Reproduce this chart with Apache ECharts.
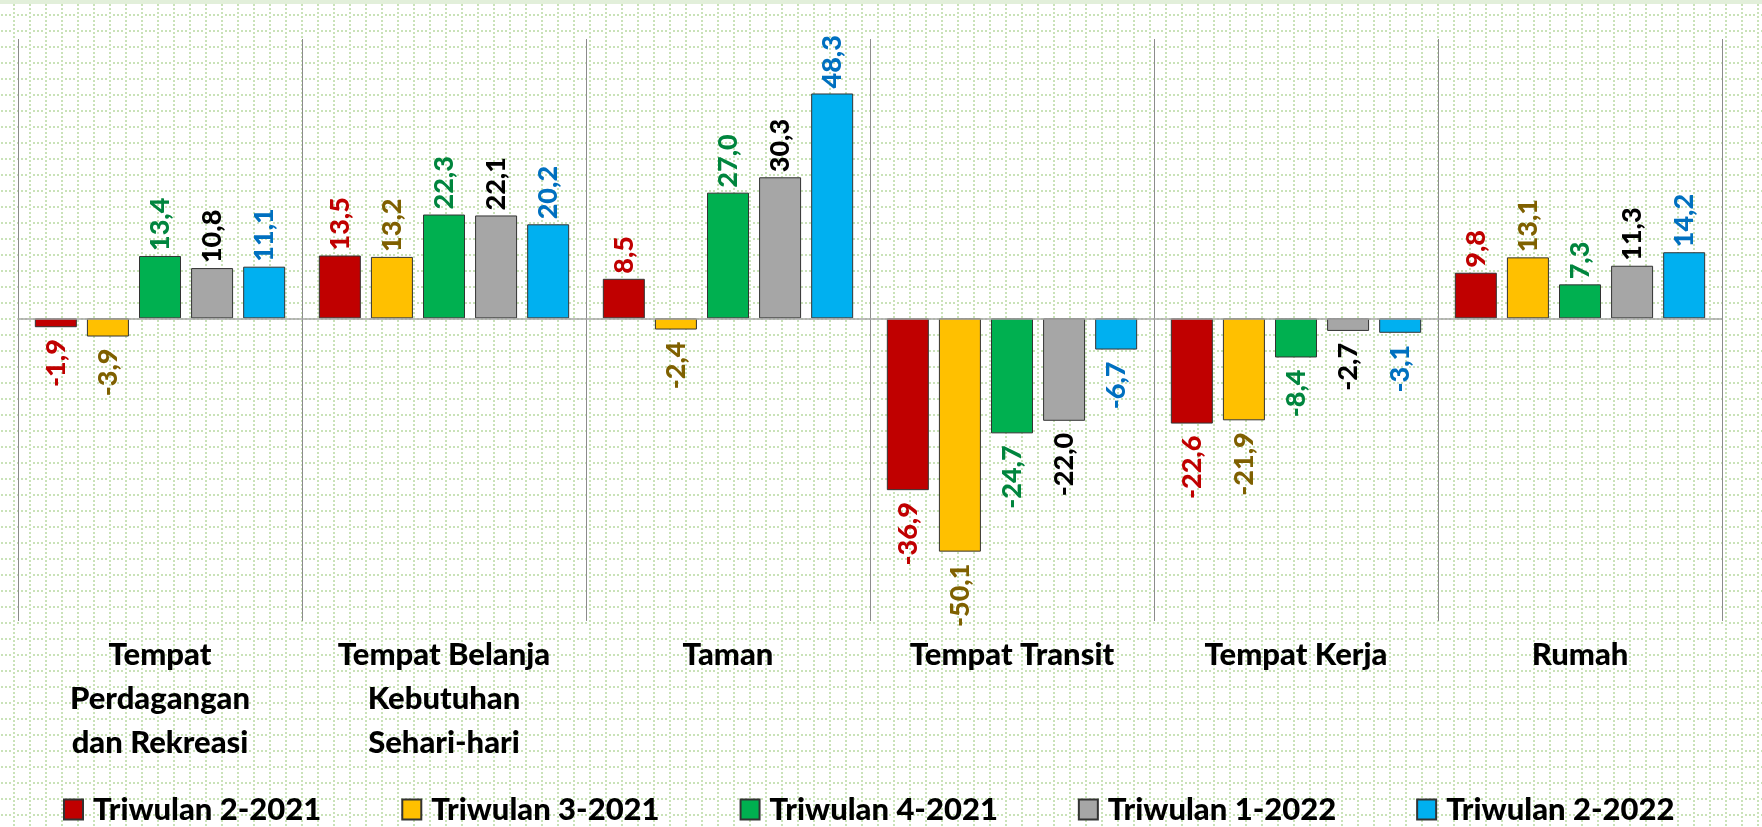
<!DOCTYPE html>
<html>
<head>
<meta charset="utf-8">
<script src="https://cdn.jsdelivr.net/npm/echarts@6/dist/echarts.min.js"></script>
<style>
  html, body { margin: 0; padding: 0; }
  body {
    width: 1762px; height: 827px; overflow: hidden; position: relative;
    background-color: #fff;
    background-image: url("data:image/svg+xml,%3Csvg xmlns='http://www.w3.org/2000/svg' width='16' height='16'%3E%3Cg fill='%23c9e2b8'%3E%3Crect x='13' y='0' width='2' height='2'/%3E%3Crect x='13' y='4' width='2' height='2'/%3E%3Crect x='13' y='8' width='2' height='2'/%3E%3Crect x='13' y='12' width='2' height='2'/%3E%3Crect x='1' y='14' width='2' height='2'/%3E%3Crect x='5' y='14' width='2' height='2'/%3E%3Crect x='9' y='14' width='2' height='2'/%3E%3C/g%3E%3C/svg%3E");
  }
  #topband { position: absolute; left: 0; top: 0; width: 1762px; height: 4px; background: #e2efda; }
  #echartsView { position: absolute; left: 0; top: 0; width: 1762px; height: 827px; }
</style>
</head>
<body>
<div id="topband"></div>
<div id="echartsView"></div>
<script>
var categories = [
  'Tempat\nPerdagangan\ndan Rekreasi',
  'Tempat Belanja\nKebutuhan\nSehari-hari',
  'Taman',
  'Tempat Transit',
  'Tempat Kerja',
  'Rumah'
];
var seriesNames = ['Triwulan 2-2021', 'Triwulan 3-2021', 'Triwulan 4-2021', 'Triwulan 1-2022', 'Triwulan 2-2022'];
var tw2_2021 = [-1.9, 13.5, 8.5, -36.9, -22.6, 9.8];
var tw3_2021 = [-3.9, 13.2, -2.4, -50.1, -21.9, 13.1];
var tw4_2021 = [13.4, 22.3, 27.0, -24.7, -8.4, 7.3];
var tw1_2022 = [10.8, 22.1, 30.3, -22.0, -2.7, 11.3];
var tw2_2022 = [11.1, 20.2, 48.3, -6.7, -3.1, 14.2];

var barColors = ['#C00000', '#FFC000', '#00B050', '#A6A6A6', '#00B0F0'];
var labelColors = ['#C00000', '#7F6000', '#00853E', '#000000', '#0070C0'];
var allValues = [tw2_2021, tw3_2021, tw4_2021, tw1_2022, tw2_2022];

var myChart = echarts.init(document.getElementById('echartsView'));

function fmt(p) {
  return p.value.toFixed(1).replace('.', ',');
}

var series = allValues.map(function (vals, i) {
  var s = {
    name: seriesNames[i],
    type: 'bar',
    barWidth: 42,
    barGap: '24%',
    itemStyle: { color: barColors[i], borderColor: '#333', borderWidth: 1 },
    data: vals.map(function (v) {
      var neg = v < 0;
      return {
        value: v,
        label: {
          show: true,
          position: neg ? 'bottom' : 'top',
          distance: neg ? 12 : 5,
          rotate: 90,
          align: neg ? 'right' : 'left',
          verticalAlign: 'middle',
          formatter: fmt,
          color: labelColors[i],
          fontFamily: 'Lato',
          fontWeight: 900,
          fontSize: 27
        }
      };
    })
  };
  if (i === 0) {
    s.markLine = {
      silent: true,
      symbol: 'none',
      label: { show: false },
      lineStyle: { color: '#a6a6a6', width: 1.5, type: 'solid' },
      data: [{ yAxis: 0 }]
    };
  }
  return s;
});

var option = {
  animation: false,
  textStyle: { fontFamily: 'Lato' },
  grid: { left: 18, right: 40, top: 39, bottom: 206 },
  legend: {
    left: 63,
    top: 794,
    padding: 0,
    icon: 'rect',
    itemWidth: 19,
    itemHeight: 20,
    itemGap: 80,
    textStyle: {
      fontFamily: 'Lato',
      fontWeight: 900,
      fontSize: 31,
      color: '#000',
      width: 232,
      padding: [0, 0, 0, 5]
    },
    data: seriesNames
  },
  xAxis: {
    type: 'category',
    data: categories,
    axisLine: { show: false },
    axisTick: { show: false },
    splitLine: { show: true, lineStyle: { color: '#8c8c8c', width: 1 } },
    axisLabel: {
      margin: 12,
      fontFamily: 'Lato',
      fontWeight: 900,
      fontSize: 31,
      lineHeight: 44,
      color: '#000',
      interval: 0
    }
  },
  yAxis: {
    type: 'value',
    min: -65,
    max: 60,
    axisLine: { show: false },
    axisTick: { show: false },
    axisLabel: { show: false },
    splitLine: { show: false }
  },
  series: series
};

myChart.setOption(option);
</script>
</body>
</html>
